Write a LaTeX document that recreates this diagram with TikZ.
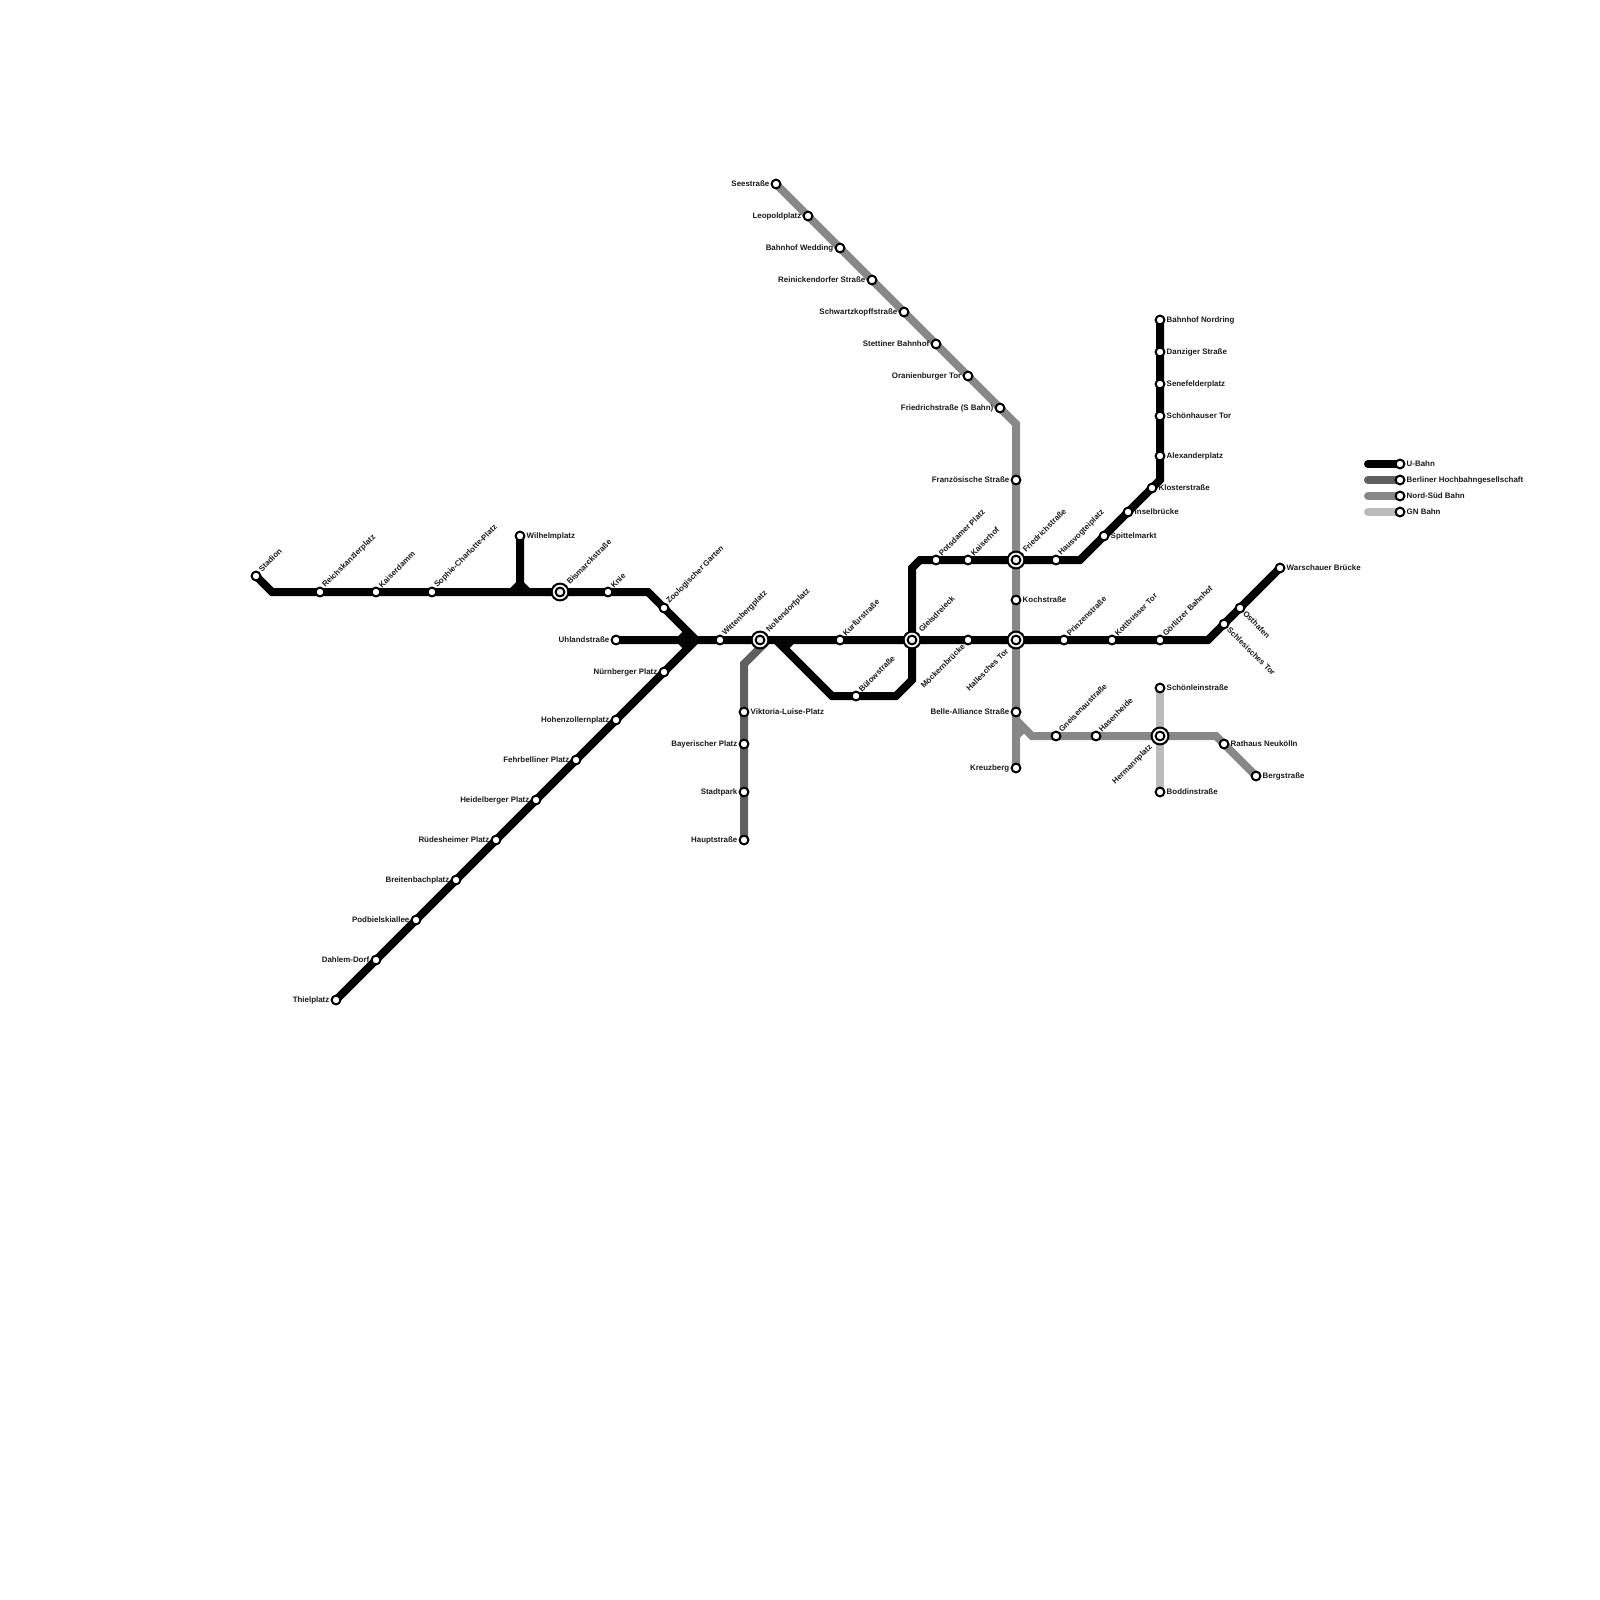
\documentclass[tikz,border=0pt]{standalone}
\usepackage{fontspec}
\setmainfont{Liberation Sans}
\usetikzlibrary{backgrounds}
\definecolor{ubahn}{RGB}{0,0,0}
\definecolor{hochbahn}{RGB}{95,95,95}
\definecolor{nordsued}{RGB}{136,136,136}
\definecolor{gnbahn}{RGB}{187,187,187}
\tikzset{
  track/.style={line width=0.08cm,draw=#1,line join=miter},
  track/.default=ubahn,
  station/.style={circle,draw=black,fill=white,line width=0.02cm,inner sep=0pt,minimum size=0.088cm},
  hub/.style={circle,draw=black,fill=white,line width=0.02cm,inner sep=0pt,minimum size=0.168cm},
  lbl/.style={font=\fontsize{2.25pt}{3pt}\selectfont\bfseries,inner sep=0pt,text=black!90},
  rgt/.style={lbl,anchor=west,xshift=0.06cm},
  lft/.style={lbl,anchor=east,xshift=-0.06cm},
  upr/.style={lbl,xshift=0.035cm,yshift=0.05cm,anchor=west,rotate=45},
  dwn/.style={lbl,xshift=-0.04cm,yshift=-0.05cm,anchor=east,rotate=45},
  sth/.style={lbl,xshift=0.04cm,yshift=-0.04cm,anchor=west,rotate=-45},
  hubup/.style={lbl,xshift=0.075cm,yshift=0.087cm,anchor=west,rotate=45},
  hubdwn/.style={lbl,xshift=-0.085cm,yshift=-0.095cm,anchor=east,rotate=45},
}
\begin{document}
\begin{tikzpicture}[x=0.01cm,y=-0.01cm]
  \useasboundingbox (0,0) rectangle (1600,1600);
  % interchanges
  \foreach \n/\x/\y/\s/\t in {bismarck/560/592/hubup/Bismarckstraße,nollendorf/760/640/hubup/Nollendorfplatz,
    gleisdreieck/912/640/hubup/Gleisdreieck,friedrich/1016/560/hubup/Friedrichstraße,
    hallesch/1016/640/hubdwn/Hallesches Tor,hermann/1160/736/hubdwn/Hermannplatz} {
    \node[hub] (\n-ring) at (\x,\y) {};
    \node[station] (\n) at (\x,\y) {};
    \node[\s] (\n-lbl) at (\x,\y) {\t};
  }
  % stations
  \foreach \n/\x/\y/\s/\t in {stadion/256/576/upr/Stadion,reichskanzler/320/592/upr/Reichskanzlerplatz,
    kaiserdamm/376/592/upr/Kaiserdamm,sophie/432/592/upr/Sophie-Charlotte-Platz,
    wilhelm/520/536/rgt/Wilhelmplatz,knie/608/592/upr/Knie,zoo/664/608/upr/Zoologischer Garten,
    uhland/616/640/lft/Uhlandstraße,nuernberg/664/672/lft/Nürnberger Platz,
    hohenzollern/616/720/lft/Hohenzollernplatz,fehrbellin/576/760/lft/Fehrbelliner Platz,
    heidelberg/536/800/lft/Heidelberger Platz,ruedesheim/496/840/lft/Rüdesheimer Platz,
    breitenbach/456/880/lft/Breitenbachplatz,podbielski/416/920/lft/Podbielskiallee,
    dahlem/376/960/lft/Dahlem-Dorf,thiel/336/1000/lft/Thielplatz,
    wittenberg/720/640/upr/Wittenbergplatz,kurfuerst/840/640/upr/Kurfürstraße,
    buelow/856/696/upr/Bülowstraße,potsdam/936/560/upr/Potsdamer Platz,kaiserhof/968/560/upr/Kaiserhof,
    moeckern/968/640/dwn/Möckernbrücke,hausvogtei/1056/560/upr/Hausvogteiplatz,
    spittel/1104/536/rgt/Spittelmarkt,insel/1128/512/rgt/Inselbrücke,kloster/1152/488/rgt/Klosterstraße,
    alex/1160/456/rgt/Alexanderplatz,schoenhaus/1160/416/rgt/Schönhauser Tor,
    senefelder/1160/384/rgt/Senefelderplatz,danzig/1160/352/rgt/Danziger Straße,
    nordring/1160/320/rgt/Bahnhof Nordring,prinzen/1064/640/upr/Prinzenstraße,
    kottbus/1112/640/upr/Kottbusser Tor,goerlitz/1160/640/upr/Görlitzer Bahnhof,
    schlesisch/1224/624/sth/Schlesisches Tor,osthafen/1240/608/sth/Osthafen,
    warschau/1280/568/rgt/Warschauer Brücke,viktoria/744/712/rgt/Viktoria-Luise-Platz,
    bayern/744/744/lft/Bayerischer Platz,stadtpark/744/792/lft/Stadtpark,haupt/744/840/lft/Hauptstraße,
    see/776/184/lft/Seestraße,leopold/808/216/lft/Leopoldplatz,wedding/840/248/lft/Bahnhof Wedding,
    reinicken/872/280/lft/Reinickendorfer Straße,schwartz/904/312/lft/Schwartzkopffstraße,
    stettin/936/344/lft/Stettiner Bahnhof,oranien/968/376/lft/Oranienburger Tor,
    friedrichs/1000/408/lft/Friedrichstraße (S Bahn),franzoes/1016/480/lft/Französische Straße,
    koch/1016/600/rgt/Kochstraße,belle/1016/712/lft/Belle-Alliance Straße,kreuzberg/1016/768/lft/Kreuzberg,
    gneisenau/1056/736/upr/Gneisenaustraße,hasenheide/1096/736/upr/Hasenheide,
    rathaus/1224/744/rgt/Rathaus Neukölln,berg/1256/776/rgt/Bergstraße,
    schoenlein/1160/688/rgt/Schönleinstraße,boddin/1160/792/rgt/Boddinstraße} {
    \node[station] (\n) at (\x,\y) {};
    \node[\s] (\n-lbl) at (\x,\y) {\t};
  }
  % legend
  \foreach \n/\y/\c/\t in {u/464/ubahn/U-Bahn,h/480/hochbahn/Berliner Hochbahngesellschaft,
    ns/496/nordsued/Nord-Süd Bahn,gn/512/gnbahn/GN Bahn} {
    \node[station] (key-\n) at (1400,\y) {};
    \node[rgt] (key-\n-lbl) at (1400,\y) {\t};
    \coordinate (key-\n-start) at (1368,\y);
    \begin{scope}[on background layer]
      \draw[track=\c,line cap=round] (key-\n-start) -- (key-\n.center);
    \end{scope}
  }
  % bends
  \coordinate (b1) at (272,592);
  \coordinate (b2) at (648,592);
  \coordinate (hub1) at (696,640);
  \coordinate (w1) at (520,584);
  \coordinate (w2) at (512,592);
  \coordinate (w3) at (528,592);
  \coordinate (u1) at (680,640);
  \coordinate (u2) at (688,632);
  \coordinate (u3) at (688,648);
  \coordinate (e1) at (1208,640);
  \coordinate (n1) at (776,640);
  \coordinate (n2) at (784,648);
  \coordinate (n3) at (792,640);
  \coordinate (n4) at (832,696);
  \coordinate (n5) at (896,696);
  \coordinate (n6) at (912,680);
  \coordinate (n7) at (912,568);
  \coordinate (n8) at (920,560);
  \coordinate (n9) at (1080,560);
  \coordinate (n10) at (1160,480);
  \coordinate (h1) at (768,640);
  \coordinate (h2) at (744,664);
  \coordinate (s1) at (1016,424);
  \coordinate (s2) at (1016,720);
  \coordinate (s3) at (1024,728);
  \coordinate (s4) at (1016,736);
  \coordinate (s5) at (1032,736);
  \coordinate (s6) at (1216,736);
  \begin{scope}[on background layer]
    \draw[track=gnbahn] (schoenlein.center) -- (boddin.center);
    \draw[track=nordsued] (see.center) -- (s1) -- (kreuzberg.center);
    \draw[track=nordsued] (s2) -- (s5) -- (s6) -- (berg.center);
    \draw[track=nordsued] (s3) -- (s4);
    \draw[track=hochbahn] (h1) -- (h2) -- (haupt.center);
    \draw[track] (stadion.center) -- (b1) -- (b2) -- (hub1);
    \draw[track] (wilhelm.center) -- (w1) -- (w2);
    \draw[track] (w1) -- (w3);
    \draw[track] (uhland.center) -- (e1) -- (warschau.center);
    \draw[track] (u1) -- (u2);
    \draw[track] (u1) -- (u3);
    \draw[track] (thiel.center) -- (hub1);
    \draw[track] (n1) -- (n4) -- (n5) -- (n6) -- (n7) -- (n8) -- (n9) -- (n10) -- (nordring.center);
    \draw[track] (n2) -- (n3);
  \end{scope}
\end{tikzpicture}
\end{document}
